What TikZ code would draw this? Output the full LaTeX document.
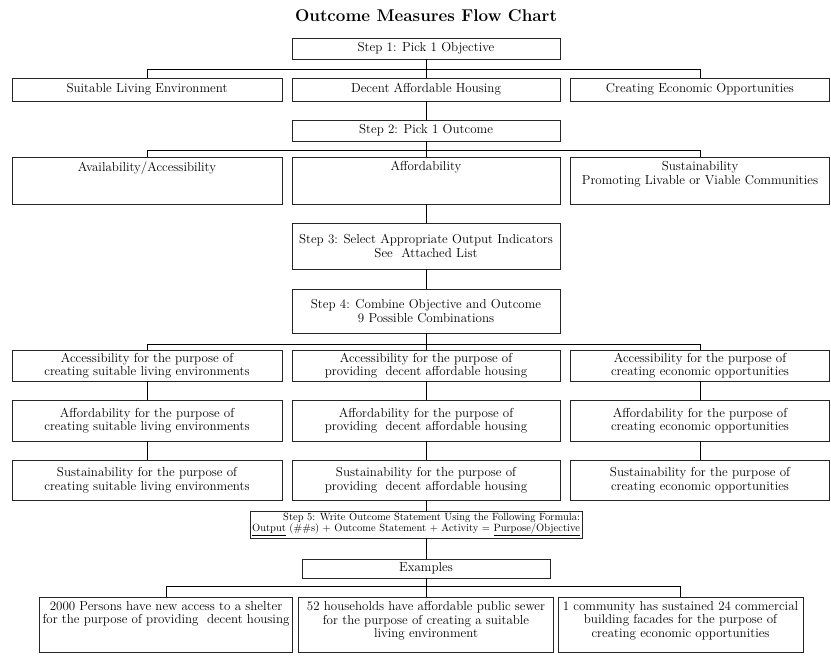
\documentclass[tikz,border=0pt]{standalone}
\usepackage{tikz}

\tikzset{
  box/.style={draw=black!85, line width=0.6pt, rectangle, inner sep=1pt, align=center, font=\fontsize{13}{13.5}\selectfont},
  inlabel/.style={anchor=north, yshift=-3.5pt, inner sep=1pt, align=center, font=\fontsize{13}{13.5}\selectfont},
  link/.style={line width=0.8pt}
}

\begin{document}
\begin{tikzpicture}[x=1pt, y=-1pt]
    \useasboundingbox (0,0) rectangle (831,657);
    \node[font=\fontsize{17}{20}\selectfont\bfseries] (title) at (426,16) {Outcome Measures Flow Chart};

    % step 1 and the objectives
    \node[box, minimum width=268, minimum height=21] (step1) at (426,48.5) {Step 1: Pick 1 Objective};
    \node[box, minimum width=270, minimum height=23] (obj1) at (147,89.5) {Suitable Living Environment};
    \node[box, minimum width=268, minimum height=23] (obj2) at (426,89.5) {Decent Affordable Housing};
    \node[box, minimum width=259, minimum height=23] (obj3) at (700,89.5) {Creating Economic Opportunities};

    % step 2 and the outcomes
    \node[box, minimum width=268, minimum height=21] (step2) at (426,130.5) {Step 2: Pick 1 Outcome};
    \node[box, minimum width=270, minimum height=47, label={[inlabel]north:Availability/Accessibility}] (out1) at (147,180.5) {};
    \node[box, minimum width=268, minimum height=47, label={[inlabel]north:Affordability}] (out2) at (426,180.5) {};
    \node[box, minimum width=259, minimum height=47, label={[inlabel]north:Sustainability\\Promoting Livable or Viable Communities}] (out3) at (700,180.5) {};

    % steps 3 and 4
    \node[box, minimum width=268, minimum height=46] (step3) at (426,246) {Step 3: Select Appropriate Output Indicators\\See~ Attached List};
    \node[box, minimum width=268, minimum height=44] (step4) at (426,311) {Step 4: Combine Objective and Outcome\\9 Possible Combinations};

    % the nine combinations
    \node[box, minimum width=270, minimum height=31] (accL) at (147,365.5) {Accessibility for the purpose of\\creating suitable living environments};
    \node[box, minimum width=268, minimum height=31] (accM) at (426,365.5) {Accessibility for the purpose of\\providing~ decent affordable housing};
    \node[box, minimum width=259, minimum height=31] (accR) at (700,365.5) {Accessibility for the purpose of\\creating economic opportunities};
    \node[box, minimum width=270, minimum height=41] (affL) at (147,420.5) {Affordability for the purpose of\\creating suitable living environments};
    \node[box, minimum width=268, minimum height=41] (affM) at (426,420.5) {Affordability for the purpose of\\providing~ decent affordable housing};
    \node[box, minimum width=259, minimum height=41] (affR) at (700,420.5) {Affordability for the purpose of\\creating economic opportunities};
    \node[box, minimum width=270, minimum height=40] (susL) at (147,480) {Sustainability for the purpose of\\creating suitable living environments};
    \node[box, minimum width=268, minimum height=40] (susM) at (426,480) {Sustainability for the purpose of\\providing~ decent affordable housing};
    \node[box, minimum width=259, minimum height=40] (susR) at (700,480) {Sustainability for the purpose of\\creating economic opportunities};

    % step 5 and examples
    \node[box, minimum width=332, minimum height=27, align=right, font=\fontsize{10.5}{11.5}\selectfont] (step5) at (416,524.5) {Step 5: Write Outcome Statement Using the Following Formula:\\\underline{Output} (\#\#s) + Outcome Statement + Activity = \underline{Purpose/Objective}};
    \node[box, minimum width=248, minimum height=19] (examples) at (426,568.5) {Examples};
    \node[box, minimum width=253, minimum height=55, label={[inlabel]north:2000 Persons have new access to a shelter\\for the purpose of providing~ decent housing}] (ex1) at (166,624.5) {};
    \node[box, minimum width=255, minimum height=55, label={[inlabel]north:52 households have affordable public sewer\\for the purpose of creating a suitable\\living environment}] (ex2) at (426,624.5) {};
    \node[box, minimum width=245, minimum height=55, label={[inlabel]north:1 community has sustained 24 commercial\\building facades for the purpose of\\creating economic opportunities}] (ex3) at (680.5,624.5) {};

    \draw[link] (step1) -- (obj2);
    \draw[link] (obj1.north) -- ++(0,-8) -| (obj3.north);
    \draw[link] (obj2) -- (step2);
    \draw[link] (step2) -- (out2);
    \draw[link] (out1.north) -- ++(0,-6) -| (out3.north);
    \draw[link] (out2) -- (step3);
    \draw[link] (step3) -- (step4);
    \draw[link] (step4) -- (accM);
    \draw[link] (accL.north) -- ++(0,-5) -| (accR.north);
    \draw[link] (accL) -- (affL) -- (susL);
    \draw[link] (accM) -- (affM) -- (susM);
    \draw[link] (accR) -- (affR) -- (susR);
    \draw[link] (susM.south) -- (susM.south |- step5.north);
    \draw[link] (examples.north |- step5.south) -- (examples.north);
    \draw[link] (examples) -- (ex2);
    \draw[link] (ex1.north) -- ++(0,-10) -| (ex3.north);
\end{tikzpicture}
\end{document}
